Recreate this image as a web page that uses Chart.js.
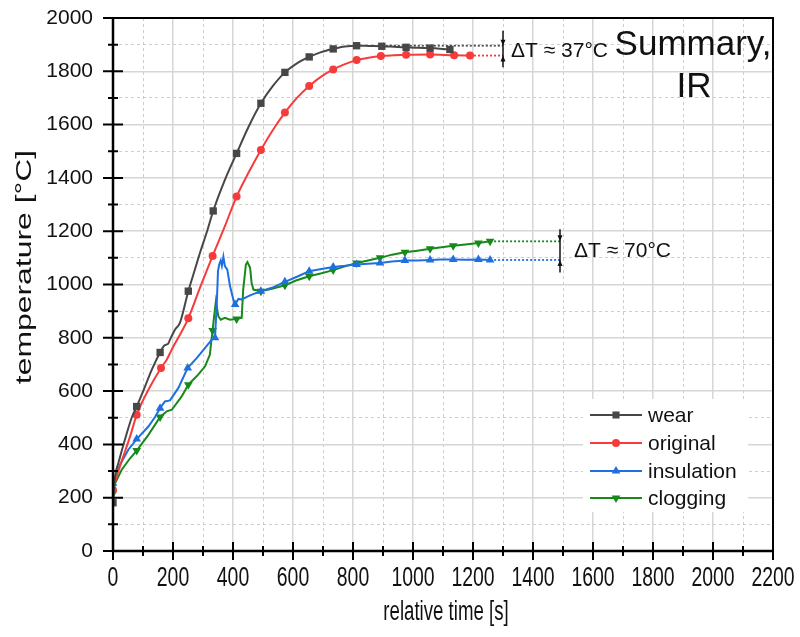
<!DOCTYPE html>
<html>
<head>
<meta charset="utf-8">
<script src="https://cdn.jsdelivr.net/npm/chart.js@4.4.1/dist/chart.umd.min.js"></script>
<style>
  html, body { margin: 0; padding: 0; background: #fff; }
  #wrap { width: 800px; height: 637px; }
</style>
</head>
<body>
<div id="wrap"><canvas id="chart" width="800" height="637"></canvas></div>
<script>
// Axis labels
const timeTicks = [0, 200, 400, 600, 800, 1000, 1200, 1400, 1600, 1800, 2000, 2200];
const tempTicks = [0, 200, 400, 600, 800, 1000, 1200, 1400, 1600, 1800, 2000];
const xTitle = 'relative time [s]';
const yTitle = 'temperature [°C]';

// wear
const wearTime = [0, 7, 18, 46, 62, 79, 107, 129, 157, 171, 184, 190, 207, 223, 251, 273, 290, 312, 334,
  372, 412, 452, 493, 533, 573, 613, 654, 694, 734, 773, 812, 854, 896, 937, 977, 1017, 1057, 1090, 1123];
const wearTemp = [181, 279, 330, 442, 499, 542, 618, 680, 745, 771, 778, 793, 831, 856, 975, 1056, 1119, 1194, 1276,
  1390, 1492, 1592, 1680, 1745, 1796, 1830, 1854, 1872, 1884, 1893, 1896, 1895, 1894, 1892, 1890, 1888, 1887, 1885, 1882];
const wearMarks = [0, 79, 157, 251, 334, 412, 493, 573, 654, 734, 812, 896, 977, 1057, 1123];

// original
const origTime = [0, 12, 34, 57, 79, 118, 160, 179, 196, 251, 290, 332, 373, 412, 452, 493, 533, 573, 613,
  654, 694, 734, 773, 812, 852, 893, 935, 977, 1057, 1137, 1190];
const origTemp = [229, 279, 354, 430, 511, 605, 687, 718, 756, 873, 988, 1107, 1219, 1330, 1420, 1505, 1580, 1645, 1700,
  1745, 1780, 1807, 1827, 1842, 1851, 1857, 1860, 1862, 1863, 1860, 1859];
const origMarks = [0, 79, 160, 251, 332, 412, 493, 573, 654, 734, 812, 893, 977, 1057, 1137, 1190];

// insulation
const insTime = [0, 23, 51, 79, 118, 140, 157, 173, 190, 218, 249, 279, 307, 329, 340, 346, 350, 354, 359, 363,
  368, 373, 381, 390, 401, 407, 418, 429, 457, 493, 535, 573, 615, 654, 695, 734, 773, 812, 850, 890, 930, 973,
  1015, 1057, 1095, 1134, 1175, 1218, 1257];
const insTemp = [254, 323, 380, 420, 467, 503, 536, 561, 565, 612, 687, 724, 762, 793, 800, 931, 1050, 1075, 1090, 1070,
  1104, 1069, 1056, 994, 944, 925, 946, 944, 959, 975, 990, 1010, 1030, 1050, 1058, 1066, 1070, 1075, 1078, 1081, 1086, 1090,
  1090, 1092, 1094, 1094, 1093, 1094, 1092];
const insMarks = [0, 79, 157, 249, 340, 407, 493, 573, 654, 734, 812, 890, 973, 1057, 1134, 1218, 1257];

// clogging
const clogTime = [0, 7, 29, 57, 79, 118, 157, 179, 196, 229, 251, 284, 307, 323, 327, 332, 337, 343, 351, 359,
  373, 390, 412, 429, 434, 443, 448, 457, 462, 468, 493, 530, 573, 610, 654, 695, 734, 773, 812, 850, 890, 930,
  973, 1015, 1057, 1095, 1134, 1175, 1218, 1257];
const clogTemp = [217, 254, 305, 348, 377, 436, 503, 524, 530, 580, 624, 662, 693, 737, 781, 827, 880, 937, 881, 868,
  875, 868, 871, 875, 981, 1075, 1084, 1063, 1006, 981, 975, 984, 997, 1015, 1031, 1042, 1054, 1068, 1081, 1090, 1100, 1112,
  1121, 1127, 1134, 1140, 1145, 1150, 1156, 1162];
const clogMarks = [0, 79, 157, 251, 332, 412, 493, 573, 654, 734, 812, 890, 973, 1057, 1134, 1218, 1257];

// dotted guides from the end levels to the ΔT markers
const wearGuide = { time: [896, 1300], temp: [1896, 1896] };
const origGuide = { time: [1190, 1300], temp: [1859, 1859] };
const insGuide = { time: [1257, 1490], temp: [1092, 1092] };
const clogGuide = { time: [1257, 1490], temp: [1162, 1162] };

const colors = {
  wear: '#474747',
  original: '#f73b3b',
  insulation: '#1f6fe0',
  clogging: '#16891a'
};

const sans = "'Liberation Sans', Arial, sans-serif";

function series(label, times, temps, marks, color, style, radius, rotation, smooth) {
  return {
    label: label,
    data: times.map((t, i) => ({ x: t, y: temps[i] })),
    borderColor: color,
    backgroundColor: color,
    borderWidth: 2,
    showLine: true,
    tension: 0,
    cubicInterpolationMode: smooth ? 'monotone' : 'default',
    pointStyle: style,
    pointRotation: rotation,
    pointRadius: ctx => marks.includes(times[ctx.dataIndex]) ? radius : 0,
    pointBorderWidth: 0,
    pointHoverRadius: 0
  };
}

function guide(g, color) {
  return {
    label: '',
    data: g.time.map((t, i) => ({ x: t, y: g.temp[i] })),
    borderColor: color,
    borderWidth: 1.8,
    borderDash: [2, 2],
    showLine: true,
    pointRadius: 0,
    pointHoverRadius: 0
  };
}

const mainSeries = [
  series('wear', wearTime, wearTemp, wearMarks, colors.wear, 'rect', 5.2, 0, true),
  series('original', origTime, origTemp, origMarks, colors.original, 'circle', 4, 0, true),
  series('insulation', insTime, insTemp, insMarks, colors.insulation, 'triangle', 5, 0, false),
  series('clogging', clogTime, clogTemp, clogMarks, colors.clogging, 'triangle', 5, 180, false)
];

// grid styling: solid on labelled ticks, dashed in between
function isMajor(list, ctx) {
  return ctx.tick && list.includes(ctx.tick.value);
}

function gridFor(list) {
  return {
    drawTicks: false,
    color: ctx => isMajor(list, ctx) ? '#d6d6d6' : '#cdcdcd',
    lineWidth: ctx => isMajor(list, ctx) ? 1.5 : 1
  };
}

function borderFor(list) {
  return {
    display: false,
    dash: ctx => (ctx.tick && !list.includes(ctx.tick.value)) ? [3, 3] : []
  };
}

// text squeezed or stretched along one direction
function scaledText(ctx, text, x, y, sx, sy, rot) {
  ctx.save();
  ctx.translate(x, y);
  if (rot) ctx.rotate(rot);
  ctx.scale(sx, sy);
  ctx.fillText(text, 0, 0);
  ctx.restore();
}

// axes box with crossing tick marks, x labels and axis titles
const axesBox = {
  id: 'axesBox',
  afterDatasetsDraw(chart) {
    const { ctx, chartArea: a, scales } = chart;
    ctx.save();
    ctx.strokeStyle = '#000';
    ctx.lineWidth = 2;
    ctx.strokeRect(a.left, a.top, a.right - a.left, a.bottom - a.top);
    ctx.lineWidth = 2.5;
    ctx.beginPath();
    ctx.moveTo(a.left, a.top);
    ctx.lineTo(a.left, a.bottom);
    ctx.lineTo(a.right, a.bottom);
    ctx.stroke();

    ctx.lineWidth = 2;
    ctx.beginPath();
    scales.x.ticks.forEach(t => {
      const px = scales.x.getPixelForValue(t.value);
      const len = timeTicks.includes(t.value) ? 9 : 5;
      ctx.moveTo(px, a.bottom - len);
      ctx.lineTo(px, a.bottom + len);
    });
    scales.y.ticks.forEach(t => {
      const py = scales.y.getPixelForValue(t.value);
      const len = tempTicks.includes(t.value) ? 10 : 5;
      ctx.moveTo(a.left - len, py);
      ctx.lineTo(a.left + len, py);
    });
    ctx.stroke();

    ctx.fillStyle = '#111';
    ctx.textAlign = 'center';
    ctx.textBaseline = 'middle';
    ctx.font = '27px ' + sans;
    timeTicks.forEach(v => {
      scaledText(ctx, String(v), scales.x.getPixelForValue(v), a.bottom + 28, 0.72, 1, 0);
    });
    scaledText(ctx, xTitle, (a.left + a.right) / 2 + 3, a.bottom + 62, 0.69, 1, 0);
    ctx.font = '22px ' + sans;
    scaledText(ctx, yTitle, 25, 267, 1.45, 1, -Math.PI / 2);
    ctx.restore();
  }
};

// ΔT markers between the dotted end levels
function deltaMark(chart, time, top, hi, lo, bottom, text, gap) {
  const { ctx, scales: { x, y } } = chart;
  const px = x.getPixelForValue(time);
  const yTop = y.getPixelForValue(top);
  const yHi = y.getPixelForValue(hi);
  const yLo = y.getPixelForValue(lo);
  const yBot = y.getPixelForValue(bottom);
  ctx.save();
  ctx.strokeStyle = '#111';
  ctx.fillStyle = '#111';
  ctx.lineWidth = 1.5;
  ctx.beginPath();
  ctx.moveTo(px, yTop);
  ctx.lineTo(px, yBot);
  ctx.stroke();
  ctx.beginPath();
  ctx.moveTo(px, yHi);
  ctx.lineTo(px - 2.5, yHi - 6);
  ctx.lineTo(px + 2.5, yHi - 6);
  ctx.closePath();
  ctx.moveTo(px, yLo);
  ctx.lineTo(px - 2.5, yLo + 6);
  ctx.lineTo(px + 2.5, yLo + 6);
  ctx.closePath();
  ctx.fill();
  ctx.font = '21px ' + sans;
  ctx.textBaseline = 'middle';
  ctx.textAlign = 'left';
  ctx.fillText(text, px + gap, (yHi + yLo) / 2 + 1);
  ctx.restore();
}

const notes = {
  id: 'notes',
  afterDraw(chart) {
    const { ctx } = chart;
    deltaMark(chart, 1300, 1952, 1896, 1859, 1815, 'ΔT ≈ 37°C', 8);
    deltaMark(chart, 1490, 1207, 1162, 1092, 1045, 'ΔT ≈ 70°C', 14);

    ctx.save();
    ctx.fillStyle = '#111';
    ctx.font = '35px ' + sans;
    ctx.textAlign = 'center';
    ctx.textBaseline = 'alphabetic';
    ctx.fillText('Summary,', 693, 55);
    ctx.fillText('IR', 694, 97);

    // legend
    ctx.fillStyle = '#fff';
    ctx.fillRect(583, 399, 165, 113);
    ctx.font = '21px ' + sans;
    ctx.textAlign = 'left';
    ctx.textBaseline = 'middle';
    const rowY = [415, 443, 471, 498];
    mainSeries.forEach((ds, i) => {
      const yy = rowY[i];
      ctx.strokeStyle = ds.borderColor;
      ctx.lineWidth = 2;
      ctx.beginPath();
      ctx.moveTo(590, yy);
      ctx.lineTo(642, yy);
      ctx.stroke();
      ctx.fillStyle = ds.backgroundColor;
      Chart.helpers.drawPoint(ctx, {
        pointStyle: ds.pointStyle,
        rotation: ds.pointRotation,
        radius: ds.pointStyle === 'circle' ? 4 : 5,
        borderWidth: 0
      }, 616, yy);
      ctx.fillStyle = '#111';
      ctx.fillText(ds.label, 648, yy + 1);
    });
    ctx.restore();
  }
};

new Chart(document.getElementById('chart'), {
  type: 'scatter',
  data: {
    datasets: [
      ...mainSeries,
      guide(wearGuide, colors.wear),
      guide(origGuide, colors.original),
      guide(insGuide, colors.insulation),
      guide(clogGuide, colors.clogging)
    ]
  },
  options: {
    responsive: false,
    devicePixelRatio: 1,
    animation: false,
    layout: { padding: { top: 18, right: 27, left: 0, bottom: 0 } },
    plugins: {
      legend: { display: false },
      tooltip: { enabled: false }
    },
    scales: {
      x: {
        type: 'linear',
        min: 0,
        max: 2200,
        afterFit: s => { s.height = 86; },
        ticks: {
          stepSize: 100,
          autoSkip: false,
          display: false
        },
        grid: gridFor(timeTicks),
        border: borderFor(timeTicks)
      },
      y: {
        min: 0,
        max: 2000,
        afterFit: s => {
          s.width = 113;
          s.paddingTop = 0;
          s.paddingBottom = 0;
        },
        ticks: {
          stepSize: 100,
          autoSkip: false,
          padding: 20,
          color: '#111',
          font: { family: sans, size: 21 },
          callback: v => tempTicks.includes(v) ? String(v) : ''
        },
        grid: gridFor(tempTicks),
        border: borderFor(tempTicks)
      }
    }
  },
  plugins: [axesBox, notes]
});
</script>
</body>
</html>
